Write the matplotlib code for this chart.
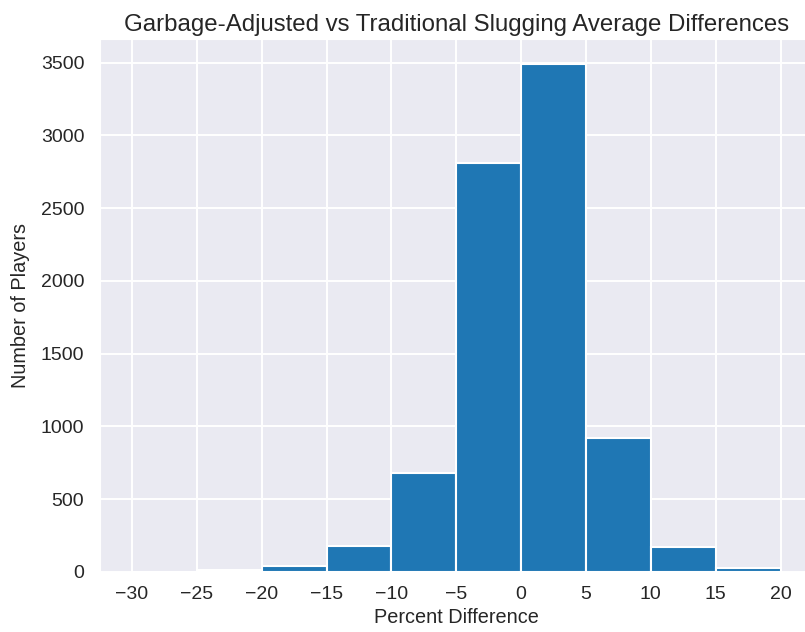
import numpy as np
import matplotlib
matplotlib.use("Agg")
import matplotlib.pyplot as plt
import seaborn as sns

# histogram bins (percent difference) and counts
bin_edges = [-30, -25, -20, -15, -10, -5, 0, 5, 10, 15, 20]
counts = [3, 16, 42, 182, 680, 2812, 3488, 920, 170, 26]

sns.set_style("darkgrid")
plt.rcParams['font.family'] = ['Liberation Sans', 'DejaVu Sans']
plt.rcParams['grid.linewidth'] = 1.4

fig = plt.figure(figsize=(8.05, 6.32), dpi=100)
# axes runs off the right edge, like the cropped original
ax = fig.add_axes([99.5 / 805, (632 - 572) / 632, (813 - 99.5) / 805, (572 - 39) / 632])

centers = [(a + b) / 2 for a, b in zip(bin_edges[:-1], bin_edges[1:])]
ax.hist(centers, bins=bin_edges, weights=counts, color="#1f77b4",
        edgecolor="white", linewidth=1.5)

ax.set_title("Garbage-Adjusted vs Traditional Slugging Average Differences",
             fontsize=17.3, color="#262626", pad=6)
ax.set_xlabel("Percent Difference", fontsize=14.3, color="#262626", labelpad=4)
ax.set_ylabel("Number of Players", fontsize=14.3, color="#262626", labelpad=8)
ax.set_xticks(bin_edges)
ax.set_yticks(range(0, 3501, 500))
ax.tick_params(axis="both", labelsize=14, colors="#262626", length=0)
ax.tick_params(axis="x", pad=10)
ax.tick_params(axis="y", pad=11)
ax.set_xlim(-32.5, 22.5)

fig.savefig("out.png", dpi=100)
